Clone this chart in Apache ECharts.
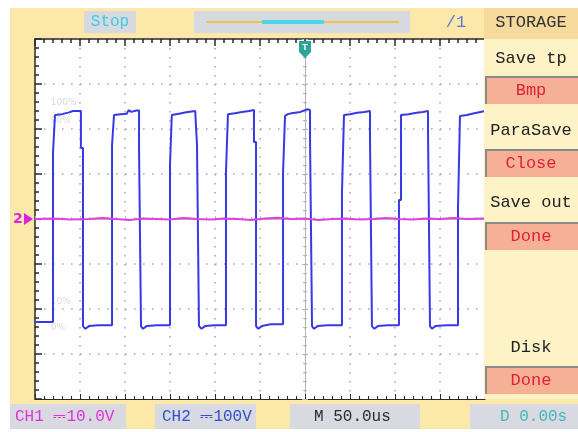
<!DOCTYPE html>
<html><head><meta charset="utf-8">
<script src="https://cdn.jsdelivr.net/npm/echarts@6/dist/echarts.min.js"></script>
<style>html,body{margin:0;padding:0;background:#fff}#c{width:578px;height:432px}</style>
</head><body><div id="c"></div>
<script>
// ---- data (time in microseconds, CH2 in volts @100V/div, CH1 in volts @10V/div) ----
const timeRange = [-300, 200];
const ch2Range = [-400, 400];
const ch1Range = [-40, 40];
const ch2Trace = [
 [-300,-229],[-280,-229],
 [-280,147],[-277.8,147],[-277.8,231],[-270,233],[-262,237],[-260,235],[-258,240],[-249,240],
 [-249,158],[-246.7,158],[-246.7,-238],[-244,-244],[-240,-238],[-230,-236],[-214.4,-236],
 [-214.4,164],[-212.2,164],[-212.2,231],[-205,233],[-198,234],[-196,242],[-193,238],[-187,241],[-184.4,241],
 [-184.4,153],[-182.2,153],[-182.2,-238],[-180,-244],[-176,-238],[-165,-236],[-150,-236],
 [-150,120],[-148,120],[-148,231],[-140,234],[-132,237],[-122,240],[-120,240],
 [-120,165],[-117.8,165],[-117.8,-238],[-115,-244],[-111,-238],[-100,-236],[-87.8,-236],
 [-87.8,104],[-85.6,104],[-85.6,233],[-78,235],[-70,238],[-62,240],[-56.7,242],
 [-56.7,171],[-54.4,171],[-54.4,-238],[-52,-244],[-48,-238],[-38,-234],[-24.4,-234],
 [-24.4,102],[-22.2,102],[-22.2,229],[-19,233],[-15,235],[-5,238],[0,242],[3,244],[5.6,242],
 [5.6,176],[7.8,176],[7.8,-238],[10,-244],[14,-238],[25,-236],[41.1,-236],
 [41.1,60],[43.3,60],[43.3,231],[50,233],[58,236],[66,238],[72.2,240],
 [72.2,187],[74.4,187],[74.4,-238],[77,-244],[81,-238],[92,-236],[104.4,-236],
 [104.4,42],[106.7,42],[106.7,231],[115,233],[124,236],[131,238],[136.7,240],
 [136.7,191],[138.9,191],[138.9,-238],[141,-244],[145,-238],[157,-236],[170,-236],
 [170,24],[172.2,24],[172.2,229],[180,231],[188,235],[195,238],[200,240]
];
const ch1Trace = [
 [-300,0],[-280,0.1],[-260,-0.1],[-240,0],[-225,0.2],[-210,0],[-195,-0.2],[-180,0.1],[-165,0],
 [-150,-0.1],[-135,0.2],[-120,0],[-105,-0.1],[-90,0.1],[-75,0],[-60,-0.2],[-45,0.1],[-30,0.3],
 [-15,0],[0,0.1],[15,-0.2],[30,0],[45,0.1],[60,-0.1],[75,0],[90,0.2],[105,0],[120,-0.1],
 [135,0.1],[150,0],[165,0.2],[180,0],[200,0.1]
];
const refLabels = ['100%','90%','10%','0%'];
const refLabelLevels = [258, 218, -184, -242];
const menuTitle = 'STORAGE';
const menuItems = ['Save tp','ParaSave','Save out','Disk'];
const menuValues = ['Bmp','Close','Done','Done'];
const statusTexts = ['CH1 \u239310.0V','CH2 \u2393100V','M 50.0us','D 0.00s'];
const topTexts = ['Stop','/1'];

// ---- styles ----
const mono = '"Liberation Mono", "DejaVu Sans Mono", monospace';
const YEL = '#fce9a9';
const INK = '#2a2a2a';
const chart = echarts.init(document.getElementById('c'), null, {renderer:'canvas'});

const xBase = {type:'value', min:timeRange[0], max:timeRange[1], interval:50, axisLabel:{show:false}};
const yBase = {type:'value', min:ch2Range[0], max:ch2Range[1], interval:100, axisLabel:{show:false}};
const dots = {show:true, lineStyle:{color:'#ababab', type:[1.6,7.4], width:1.6}};

const menuTextY = [58, 130, 202, 347];
const menuBoxY = [76, 149, 222, 366];
const g = [];
g.push({type:'rect', z:50, shape:{x:0,y:0,width:578,height:8}, style:{fill:'#fff'}});
g.push({type:'rect', z:50, shape:{x:0,y:0,width:10,height:432}, style:{fill:'#fff'}});
g.push({type:'rect', z:50, shape:{x:0,y:429,width:578,height:3}, style:{fill:'#fff'}});
// top bar
g.push({type:'rect', z:50, shape:{x:84,y:11,width:52,height:22}, style:{fill:'#d7d9e1'}});
g.push({type:'text', z:51, style:{text:topTexts[0], x:110, y:22, align:'center', verticalAlign:'middle', font:'16px '+mono, fill:'#3fcbe2'}});
g.push({type:'rect', z:50, shape:{x:194,y:11,width:216,height:22}, style:{fill:'#d7d9e1'}});
g.push({type:'line', z:51, shape:{x1:206,y1:22,x2:399,y2:22}, style:{stroke:'#e9c64a', lineWidth:2}});
g.push({type:'line', z:52, shape:{x1:262,y1:22,x2:324,y2:22}, style:{stroke:'#4dd6ea', lineWidth:4}});
g.push({type:'text', z:51, style:{text:topTexts[1], x:456, y:22, align:'center', verticalAlign:'middle', font:'17px '+mono, fill:'#5a78d8'}});
// menu
g.push({type:'rect', z:50, shape:{x:484,y:8,width:94,height:391}, style:{fill:'#fdf3c6'}});
g.push({type:'rect', z:51, shape:{x:484,y:8,width:94,height:31}, style:{fill:'#f6d99c'}});
g.push({type:'text', z:52, style:{text:menuTitle, x:531, y:22, align:'center', verticalAlign:'middle', font:'17px '+mono, fill:'#333'}});
menuItems.forEach((t,i)=>{
  g.push({type:'text', z:52, style:{text:t, x:531, y:menuTextY[i], align:'center', verticalAlign:'middle', font:'17px '+mono, fill:'#222'}});
  g.push({type:'rect', z:51, shape:{x:485,y:menuBoxY[i],width:93,height:28}, style:{fill:'#f5b096'}});
  g.push({type:'polyline', z:52, shape:{points:[[486,menuBoxY[i]+28],[486,menuBoxY[i]+1],[578,menuBoxY[i]+1]]}, style:{stroke:'#8a8a8a', lineWidth:2, fill:null}});
  g.push({type:'text', z:52, style:{text:menuValues[i], x:531, y:menuBoxY[i]+14, align:'center', verticalAlign:'middle', font:'17px '+mono, fill:'#e0203a'}});
});
// status bar
const statusBoxes = [[10,116],[155,101],[290,130],[470,108]];
const statusX = [15, 162, 314, 500];
const statusColors = ['#e030d8','#3050d0','#2c2c2c','#3fb8b8'];
statusTexts.forEach((t,i)=>{
  g.push({type:'rect', z:50, shape:{x:statusBoxes[i][0],y:404,width:statusBoxes[i][1],height:25}, style:{fill:'#d9d9e1'}});
  g.push({type:'text', z:51, style:{text:t, x:statusX[i], y:417, align:'left', verticalAlign:'middle', font:'16px '+mono, fill:statusColors[i]}});
});
// trigger marker
g.push({type:'polygon', z:60, shape:{points:[[299,41],[311,41],[311,52],[305,58],[299,52]]}, style:{fill:'#2ea39a'}});
g.push({type:'text', z:61, style:{text:'T', x:305, y:48, align:'center', verticalAlign:'middle', font:'bold 9px sans-serif', fill:'#fff'}});
// CH2 ground marker
g.push({type:'text', z:60, style:{text:'2', x:13, y:219, align:'left', verticalAlign:'middle', font:'bold 14px "DejaVu Sans"', fill:'#e020e0'}});
g.push({type:'polygon', z:60, shape:{points:[[24,213],[33,219],[24,225]]}, style:{fill:'#e020e0'}});

chart.setOption({
  animation:false,
  backgroundColor: YEL,
  grid:{left:35, top:39, width:450, height:360, show:true, backgroundColor:'#ffffff', borderWidth:0},
  xAxis:[
    {...xBase, position:'bottom', axisLine:{onZero:false, lineStyle:{color:INK, width:1}},
      axisTick:{inside:true, length:5, lineStyle:{color:INK}}, minorTick:{show:true, splitNumber:5, length:3, lineStyle:{color:INK}},
      splitLine:dots},
    {...xBase, position:'top', axisLine:{onZero:false, lineStyle:{color:INK, width:1.5}},
      axisTick:{inside:true, length:7, lineStyle:{color:INK, width:1.5}}, minorTick:{show:true, splitNumber:5, length:4, lineStyle:{color:INK, width:1.5}},
      splitLine:{show:false}},
    {...xBase, position:'bottom', axisLine:{onZero:true, lineStyle:{color:'#bdbdbd', width:1}},
      axisTick:{inside:true, length:3, lineStyle:{color:'#bdbdbd'}}, minorTick:{show:true, splitNumber:5, length:2, lineStyle:{color:'#bdbdbd'}},
      splitLine:{show:false}}
  ],
  yAxis:[
    {...yBase, position:'left', axisLine:{onZero:false, lineStyle:{color:INK, width:1.5}},
      axisTick:{inside:true, length:7, lineStyle:{color:INK, width:1.5}}, minorTick:{show:true, splitNumber:5, length:4, lineStyle:{color:INK, width:1.5}},
      splitLine:dots},
    {type:'value', min:ch1Range[0], max:ch1Range[1], show:false, position:'right'},
    {...yBase, position:'left', axisLine:{onZero:true, lineStyle:{color:'#b5b5b5', width:1}},
      axisTick:{inside:true, length:3, lineStyle:{color:'#b5b5b5'}}, minorTick:{show:true, splitNumber:5, length:2, lineStyle:{color:'#b5b5b5'}},
      splitLine:{show:false}},
    {...yBase, position:'left', axisLine:{onZero:true, lineStyle:{color:'#b5b5b5', width:1}},
      axisTick:{inside:false, length:3, lineStyle:{color:'#b5b5b5'}}, minorTick:{show:true, splitNumber:5, length:2, lineStyle:{color:'#b5b5b5'}},
      splitLine:{show:false}}
  ],
  graphic: g,
  series:[
    {type:'line', name:'CH2', xAxisIndex:0, yAxisIndex:0, data:ch2Trace, symbol:'none', lineStyle:{color:'#3838e6', width:2}, z:6, silent:true},
    {type:'line', name:'CH1', xAxisIndex:0, yAxisIndex:1, data:ch1Trace, symbol:'none', lineStyle:{color:'#e23ee0', width:2}, z:7, silent:true},
    {type:'scatter', name:'ref', xAxisIndex:0, yAxisIndex:0, symbolSize:0, silent:true, z:3,
      data: refLabels.map((t,i)=>({value:[-288, refLabelLevels[i]], label:{show:true, formatter:t, position:'right', color:'#cfd0dc', fontSize:9, fontFamily:'"DejaVu Sans"'}}))}
  ]
});
</script></body></html>
